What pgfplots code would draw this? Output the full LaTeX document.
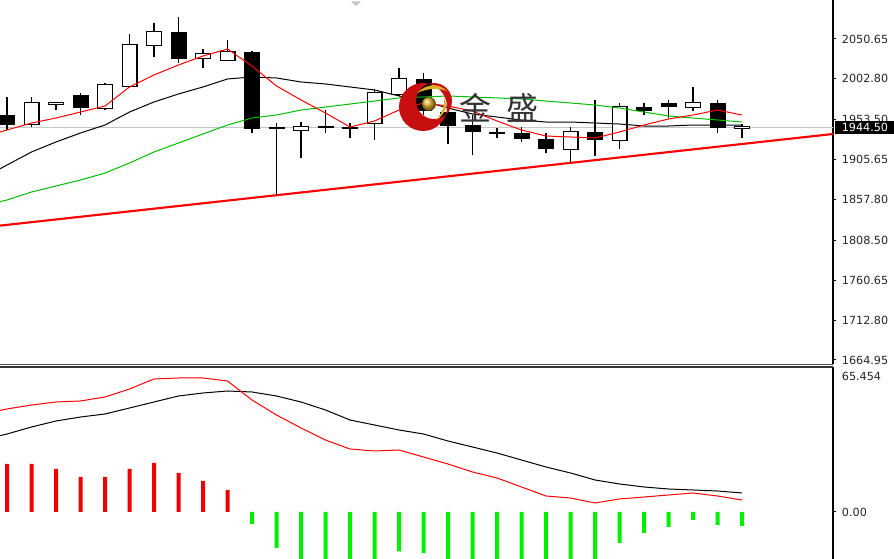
\documentclass[border=0pt]{standalone}
\usepackage{fontspec}
\setmainfont{DejaVu Sans}
\newfontfamily\cjk{Noto Sans CJK SC}
\usepackage{pgfplots}
\usepackage{pgfplotstable}
\pgfplotsset{compat=1.18}
\definecolor{magreen}{RGB}{0,190,0}
\definecolor{histgreen}{RGB}{0,240,0}
\definecolor{histred}{RGB}{240,0,0}
\definecolor{goldc}{RGB}{220,175,40}
\definecolor{logored}{RGB}{200,15,15}

% bearish candles: index, open, high, low, close
\pgfplotstableread{
i o h l c
0 1959.3 1981.0 1941.3 1947.3
3 1983.4 1985.8 1959.3 1967.7
7 2059.1 2077.1 2021.8 2026.6
10 2035.0 2036.2 1937.7 1942.5
17 2002.6 2009.8 1959.3 1964.1
18 1962.9 1975.0 1924.5 1946.1
19 1947.3 1959.3 1911.3 1938.9
20 1938.9 1943.7 1931.7 1936.5
21 1937.7 1944.9 1926.9 1930.5
22 1930.5 1937.7 1913.7 1918.5
24 1938.9 1977.4 1910.1 1929.3
26 1968.9 1973.8 1959.3 1964.1
27 1973.8 1977.4 1955.7 1968.9
29 1973.8 1977.4 1937.7 1943.7
}\blackc

% bullish candles and dojis
\pgfplotstableread{
i o h l c
1 1948.5 1981.0 1944.9 1973.8
2 1972.5 1973.8 1965.3 1973.8
4 1967.7 1997.8 1965.3 1995.4
5 1994.2 2056.7 1991.8 2043.4
6 2043.4 2069.9 2029.0 2059.1
8 2027.8 2038.6 2015.8 2032.6
9 2025.4 2049.5 2025.4 2035.0
11 1943.7 1949.7 1863.2 1943.7
12 1941.3 1950.9 1907.7 1944.9
13 1944.9 1965.3 1937.7 1944.9
14 1943.7 1949.7 1931.7 1943.7
15 1949.7 1990.6 1929.3 1985.8
16 1984.6 2015.8 1982.2 2002.6
23 1918.5 1944.9 1902.9 1938.9
25 1929.3 1973.8 1918.5 1968.9
28 1968.9 1993.0 1964.1 1973.8
30 1943.7 1948.5 1931.7 1944.5
}\whitec

% moving averages: red (fast), black (middle), green (slow)
\pgfplotstableread{
i r k g
-1 1932.9 1883.6 1850.0
0 1941.3 1899.2 1857.2
1 1949.7 1914.9 1866.8
2 1955.7 1926.9 1874.0
3 1962.9 1937.7 1881.2
4 1970.1 1947.3 1889.6
5 1993.0 1962.9 1901.6
6 2007.4 1975.0 1914.9
7 2019.4 1984.6 1925.7
8 2030.2 1993.0 1936.5
9 2038.6 2002.6 1947.3
10 2018.2 2005.0 1955.7
11 1994.2 2003.8 1959.3
12 1977.4 1999.0 1965.3
13 1961.7 1996.6 1968.9
14 1944.9 1993.0 1972.5
15 1952.1 1989.4 1976.1
16 1965.3 1982.2 1979.8
17 1973.8 1976.1 1981.0
18 1970.1 1967.7 1982.2
19 1964.1 1960.5 1981.0
20 1952.1 1956.9 1979.8
21 1941.3 1953.3 1978.6
22 1934.1 1950.9 1976.1
23 1932.9 1950.9 1973.8
24 1931.7 1949.7 1971.3
25 1938.9 1948.5 1967.7
26 1947.3 1946.1 1962.9
27 1954.5 1946.1 1958.1
28 1959.3 1947.3 1955.7
29 1965.3 1947.3 1953.3
30 1959.3 1947.3 1950.9
}\ma

% MACD lines: red, black
\pgfplotstableread{
i r k
-1 44.2 32.5
0 46.50 35.21
1 48.30 38.37
2 49.66 41.08
3 50.11 42.88
4 51.91 44.24
5 55.52 46.95
6 60.04 49.66
7 60.49 52.36
8 60.49 53.72
9 59.13 54.62
10 50.56 54.17
11 43.79 52.36
12 37.92 49.66
13 32.50 46.04
14 28.44 41.53
15 27.54 39.27
16 27.99 37.02
17 24.83 35.21
18 21.67 32.05
19 18.06 29.34
20 15.35 26.63
21 11.29 23.47
22 7.22 20.31
23 6.32 17.61
24 4.06 14.45
25 5.87 12.64
26 6.77 11.29
27 7.67 10.38
28 8.58 9.93
29 7.22 9.48
30 5.42 8.58
}\macd

\pgfplotsset{
  candlebar/.style 2 args={only marks, mark=*, mark size=0pt,
    mark options={draw=none, fill=none}, forget plot,
    error bars/.cd, y dir=plus, y explicit, error mark=none,
    error bar style={line width=#1, draw=#2}},
}
\tikzset{lab/.style={font=\fontsize{8.4}{10}\selectfont}}

\begin{document}
\begin{tikzpicture}
\path[use as bounding box] (0,0) rectangle (670.5pt,-419.25pt);

\begin{axis}[
  at={(0pt,0pt)}, anchor=north west,
  scale only axis, width=624.75pt, height=273pt,
  xmin=-0.2857, xmax=33.714, ymin=1660.13, ymax=2097.51,
  axis x line=none, axis y line=right,
  y axis line style={-, line width=1.2pt, black},
  xtick=\empty,
  ytick={1664.95,1712.80,1760.65,1808.50,1857.80,1905.65,1953.50,2002.80,2050.65},
  yticklabels={1664.95,1712.80,1760.65,1808.50,1857.80,1905.65,1953.50,2002.80,2050.65},
  tick align=outside, major tick length=2.5pt,
  tick style={black, line width=0.75pt},
  yticklabel style={lab, anchor=west, inner sep=0pt, xshift=4pt, text=black!85},
  clip=true,
]
\addplot[gray!45, line width=1.1pt, forget plot] coordinates {(-1,1944.5) (35,1944.5)};
\addplot[red, line width=1.6pt, forget plot] coordinates {(-0.2857,1826.4) (33.714,1936.5)};
% wicks
\addplot[candlebar={1.1pt}{black}] table[x=i, y=l, y error expr=\thisrow{h}-\thisrow{l}] {\blackc};
\addplot[candlebar={1.1pt}{black}] table[x=i, y=l, y error expr=\thisrow{h}-\thisrow{l}] {\whitec};
% bodies
\addplot[candlebar={12pt}{black}] table[x=i, y=c, y error expr=\thisrow{o}-\thisrow{c}] {\blackc};
\addplot[candlebar={12pt}{black}] table[x=i, y expr=\thisrow{o}-1.2, y error expr=\thisrow{c}-\thisrow{o}+2.4] {\whitec};
\addplot[candlebar={10.2pt}{white}] table[x=i, y=o, y error expr=\thisrow{c}-\thisrow{o}] {\whitec};
% moving averages
\addplot[magreen, line width=0.75pt] table[x=i, y=g] {\ma};
\addplot[black, line width=0.75pt] table[x=i, y=k] {\ma};
\addplot[red, line width=0.75pt] table[x=i, y=r] {\ma};
\coordinate (lastp) at (axis cs:33.714,1944.5);
\end{axis}

\begin{axis}[
  at={(0pt,-275.25pt)}, anchor=north west,
  scale only axis, width=624.75pt, height=144pt,
  xmin=-0.2857, xmax=33.714, ymin=-21.22, ymax=65.454,
  axis x line=none, axis y line=right,
  y axis line style={-, line width=1.2pt, black},
  xtick=\empty, ytick={0}, yticklabels={0.00},
  tick align=outside, major tick length=2.5pt,
  tick style={black, line width=0.75pt},
  yticklabel style={lab, anchor=west, inner sep=0pt, xshift=4pt, text=black!85},
  clip=true,
]
\addplot[ybar, bar shift=0pt, bar width=3pt, fill=histred, draw=none] coordinates {
(0,21.67) (1,21.67) (2,19.41) (3,15.80) (4,15.80) (5,19.41) (6,22.12) (7,17.61) (8,13.99) (9,9.93)};
\addplot[ybar, bar shift=0pt, bar width=3pt, fill=histgreen, draw=none] coordinates {
(10,-5.42) (11,-16.25) (12,-23.5) (13,-27) (14,-26.2) (15,-23.5) (16,-17.8) (17,-18.6) (18,-22) (19,-22.6) (20,-22.6) (21,-24.4) (22,-26.2) (23,-22.6) (24,-22) (25,-13.99) (26,-9.48) (27,-6.77) (28,-3.61) (29,-5.87) (30,-6.32)};
\addplot[black, line width=0.75pt] table[x=i, y=k] {\macd};
\addplot[red, line width=0.75pt] table[x=i, y=r] {\macd};
\coordinate (mtop) at (rel axis cs:1,1);
\end{axis}

\node[lab, anchor=north west, inner sep=0pt, text=black!85] at ([xshift=6.5pt,yshift=-4pt]mtop) {65.454};
\node[lab, fill=black, text=white, anchor=west, inner sep=0pt, minimum width=44.5pt, minimum height=9.75pt] at ([xshift=1.5pt]lastp) {1944.50};

\begin{scope}[x=0.75pt, y=-0.75pt]
  \draw[black!70, line width=0.75pt] (0,364.8) -- (833,364.8);
  \draw[black!80, line width=0.9pt] (0,367) -- (833,367);
  \fill[gray!45] (351,1.5) -- (361,1.5) -- (356,6) -- cycle;
  % watermark logo
  \fill[logored, even odd rule] (423,107) circle (24) (434,101) circle (18);
  \fill[goldc] (417,93) .. controls (428,82) and (440,84) .. (447,91)
                 .. controls (439,88) and (428,88) .. (417,93) -- cycle;
  \fill[goldc] (436,120) .. controls (446,114) and (448,105) .. (444,98)
                 .. controls (445,106) and (442,113) .. (436,120) -- cycle;
  \shade[ball color=goldc] (429,104) circle (7);
  \node[font=\cjk\fontsize{24}{24}\selectfont, text=black!80, inner sep=0pt] at (475,108) {金};
  \node[font=\cjk\fontsize{24}{24}\selectfont, text=black!80, inner sep=0pt] at (522,108) {盛};
\end{scope}
\end{tikzpicture}
\end{document}
